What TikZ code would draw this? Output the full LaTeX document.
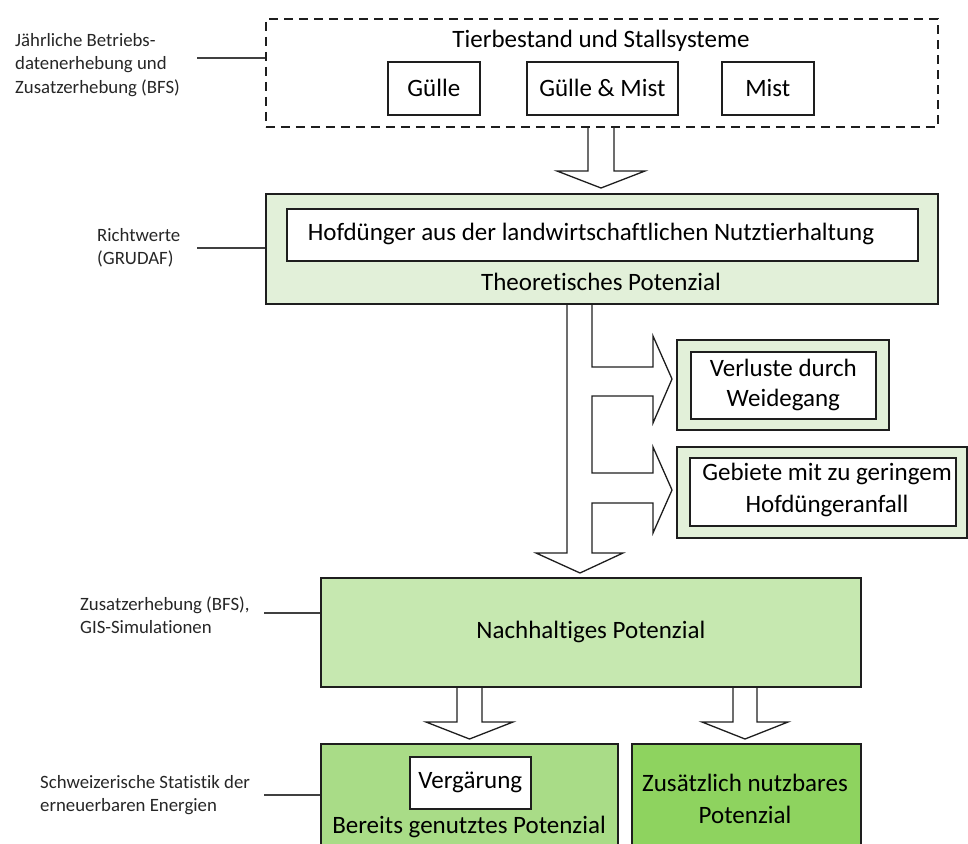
\documentclass[tikz,border=0pt]{standalone}
\usepackage{fontspec}
\setmainfont{Carlito}[Ligatures={NoCommon,NoRare,NoDiscretionary}]
\definecolor{theo}{HTML}{E2F0D9}
\definecolor{nach}{HTML}{C6E8B0}
\definecolor{ber}{HTML}{A9DC87}
\definecolor{zus}{HTML}{8ED35F}
\definecolor{edge}{HTML}{1E1E1E}
\begin{document}
\begin{tikzpicture}[x=1pt,y=-1pt,
  box/.style={draw=edge, line width=1.7pt, inner sep=0pt, anchor=north west, align=center,
    font=\fontsize{25}{31}\selectfont},
  dashbox/.style={box, dash pattern=on 9pt off 6pt},
  txt/.style={inner sep=0pt, align=center, font=\fontsize{25}{31}\selectfont},
  lbl/.style={inner sep=0pt, align=left, anchor=west, text=black!85, font=\fontsize{18.8}{23.5}\selectfont},
  conn/.style={draw=black!75, line width=1.3pt},
  blockarrow/.style={draw=edge, line width=1.3pt, line join=miter}
]
\useasboundingbox (0,0) rectangle (968,843);
\clip (0,0) rectangle (968,843);

% top dashed box
\node[dashbox, minimum width=672pt, minimum height=108pt] (stall) at (265,18) {};
\node[txt] (stalltitle) at (601,41) {Tierbestand und Stallsysteme};
\node[box, minimum width=92pt, minimum height=53pt] (guelle) at (387,61) {Gülle};
\node[box, minimum width=151pt, minimum height=53pt] (gm) at (526,61) {Gülle \& Mist};
\node[box, minimum width=92pt, minimum height=53pt] (mist) at (721,61) {Mist};

% arrow 1
\draw[blockarrow] (588,126) -- (588,171) -- (557,171) -- (601,188) -- (645,171) -- (614,171) -- (614,126);

% theoretical potential
\node[box, fill=theo, minimum width=672pt, minimum height=110pt] (theo) at (265,193) {};
\node[box, fill=white, minimum width=631pt, minimum height=52pt] (hof) at (286,208) {};
\node[txt] (hoftext) at (591,234) {Hofdünger aus der landwirtschaftlichen Nutztierhaltung};
\node[txt] (theotext) at (601,282) {Theoretisches Potenzial};

% branching arrow
\draw[blockarrow] (567,303) -- (567,553) -- (536,553) -- (580,573) -- (623,553) -- (592,553)
  -- (592,503) -- (653,503) -- (653,533) -- (672,490) -- (653,447) -- (653,473) -- (592,473)
  -- (592,396) -- (653,396) -- (653,423) -- (672,379) -- (653,336) -- (653,367) -- (592,367)
  -- (592,303);

% losses
\node[box, fill=theo, minimum width=212pt, minimum height=90pt] (verlo) at (676,339) {};
\node[box, fill=white, minimum width=185pt, minimum height=67pt, font=\fontsize{25}{30}\selectfont] (verl) at (690,351) {Verluste durch\\Weidegang};
\node[box, fill=theo, minimum width=290pt, minimum height=91pt] (gebo) at (676,446) {};
\node[box, fill=white, minimum width=266pt, minimum height=68pt] (geb) at (689,457) {};
\node[txt, font=\fontsize{25}{32}\selectfont] (gebtext) at (827,490) {Gebiete mit zu geringem\\Hofdüngeranfall};

% sustainable potential
\node[box, fill=nach, minimum width=540pt, minimum height=109pt] (nach) at (320,577) {Nachhaltiges Potenzial};

% arrows 2 and 3
\draw[blockarrow] (457,686) -- (457,722) -- (426,722) -- (469.5,739) -- (513,722) -- (482,722) -- (482,686);
\draw[blockarrow] (733,686) -- (733,722) -- (702,722) -- (745,739) -- (788,722) -- (757,722) -- (757,686);

% bottom boxes
\node[box, fill=ber, minimum width=297pt, minimum height=130pt] (ber) at (320,743) {};
\node[box, fill=white, minimum width=121pt, minimum height=52pt] (verg) at (409,756) {Vergärung};
\node[txt] (bertext) at (469,827) {Bereits genutztes Potenzial};
\node[box, fill=zus, minimum width=229pt, minimum height=130pt] (zus) at (631,743) {};
\node[txt, font=\fontsize{25}{32}\selectfont] (zustext) at (745,799) {Zusätzlich nutzbares\\Potenzial};

% side labels
\node[lbl] (lab1) at (15,65) {Jährliche Betriebs-\\datenerhebung und\\Zusatzerhebung (BFS)};
\node[lbl] (lab2) at (97,248) {Richtwerte\\(GRUDAF)};
\node[lbl] (lab3) at (80,615) {Zusatzerhebung (BFS),\\GIS-Simulationen};
\node[lbl] (lab4) at (40,795) {Schweizerische Statistik der\\erneuerbaren Energien};

\coordinate (c1) at (197,58);
\coordinate (c2) at (197,248);
\coordinate (c3) at (264,613);
\coordinate (c4) at (264,795);
\draw[conn] (c1) -- (c1 -| stall.west);
\draw[conn] (c2) -- (c2 -| theo.west);
\draw[conn] (c3) -- (c3 -| nach.west);
\draw[conn] (c4) -- (c4 -| ber.west);
\end{tikzpicture}
\end{document}
